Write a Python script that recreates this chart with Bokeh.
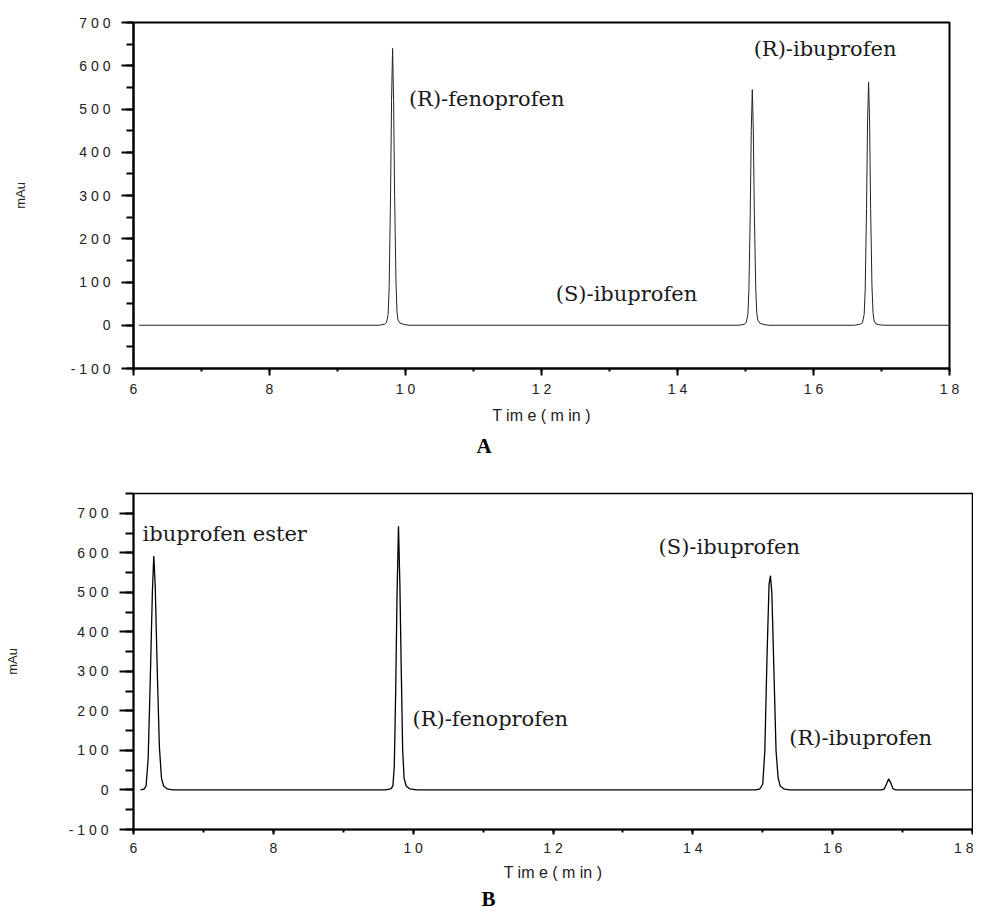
from bokeh.plotting import figure
from bokeh.layouts import column
from bokeh.models import Label, SingleIntervalTicker, Range1d, Title
from bokeh.embed import file_html
from bokeh.resources import INLINE

# ---------------- data ----------------
# Panel A chromatogram: time (min) and absorbance (mAu)
time_a = [6.08, 9.60, 9.69, 9.72, 9.745, 9.76, 9.78, 9.795, 9.81, 9.825, 9.84, 9.86, 9.875, 9.89, 9.92, 9.97, 10.05,
          14.90, 14.98, 15.01, 15.035, 15.05, 15.07, 15.085, 15.10, 15.115, 15.13, 15.15, 15.165, 15.18, 15.21, 15.26, 15.34,
          16.60, 16.68, 16.72, 16.745, 16.76, 16.78, 16.795, 16.81, 16.825, 16.84, 16.86, 16.875, 16.89, 16.92, 16.97, 17.05,
          18.0]
mau_a = [0, 0, 2, 6, 25, 90, 300, 520, 640, 520, 300, 100, 30, 12, 5, 2, 0,
         0, 2, 6, 25, 80, 260, 450, 545, 450, 260, 90, 30, 12, 5, 2, 0,
         0, 2, 6, 25, 80, 270, 470, 562, 470, 270, 90, 30, 10, 3, 1, 0,
         0]

# Panel B chromatogram
time_b = [6.10, 6.15, 6.18, 6.21, 6.24, 6.27, 6.29, 6.31, 6.34, 6.37, 6.40, 6.43, 6.48, 6.56,
          9.60, 9.68, 9.71, 9.73, 9.75, 9.77, 9.79, 9.81, 9.83, 9.85, 9.87, 9.90, 9.95, 10.05,
          14.90, 14.96, 15.00, 15.03, 15.06, 15.09, 15.11, 15.13, 15.16, 15.19, 15.22, 15.25, 15.30, 15.38,
          16.70, 16.74, 16.77, 16.80, 16.83, 16.86, 16.90,
          18.0]
mau_b = [0, 2, 10, 80, 280, 500, 592, 520, 300, 110, 30, 10, 3, 0,
         0, 3, 10, 60, 250, 500, 667, 520, 300, 100, 30, 10, 3, 0,
         0, 3, 15, 100, 330, 520, 542, 500, 300, 100, 30, 10, 3, 0,
         0, 3, 15, 28, 18, 4, 0,
         0]

# Tick values and their printed labels
y_tick_values = [-100, 0, 100, 200, 300, 400, 500, 600, 700]
y_tick_labels = ["- 1 0 0", "0", "1 0 0", "2 0 0", "3 0 0", "4 0 0", "5 0 0", "6 0 0", "7 0 0"]
x_tick_values = [6, 8, 10, 12, 14, 16, 18]
x_tick_labels = ["6", "8", "1 0", "1 2", "1 4", "1 6", "1 8"]

x_axis_title = "T im e ( m in )"
y_axis_title = "mAu"

# Peak annotations: (text, time anchor, mAu anchor)
peak_names_a = ["(R)-fenoprofen", "(S)-ibuprofen", "(R)-ibuprofen"]
peak_x_a = [10.05, 12.21, 15.12]
peak_y_a = [522, 72, 638]

peak_names_b = ["ibuprofen ester", "(R)-fenoprofen", "(S)-ibuprofen", "(R)-ibuprofen"]
peak_x_b = [6.13, 9.99, 13.51, 15.38]
peak_y_b = [648, 180, 615, 132]

panel_letters = ["A", "B"]

# ---------------- styling helpers ----------------
SANS = "Liberation Sans"
SERIF = "DejaVu Serif"


def make_panel(t, v, names, nx, ny, letter, letter_offset, letter_standoff,
               frame_w, frame_h, bl, br, bt, bb, y_end, ytick_out, ylab_standoff,
               xtick_out, xlabel_standoff, outline_w, line_w, line_col):
    p = figure(frame_width=frame_w, frame_height=frame_h,
               min_border_left=bl, min_border_right=br, min_border_top=bt, min_border_bottom=bb,
               x_range=Range1d(6, 18), y_range=Range1d(-100, y_end),
               output_backend="svg", toolbar_location=None)
    p.xgrid.visible = False
    p.ygrid.visible = False
    p.outline_line_color = "black"
    p.outline_line_width = outline_w
    p.outline_line_alpha = 1.0
    p.background_fill_color = "white"
    p.border_fill_color = "white"

    p.line(t, v, line_color=line_col, line_width=line_w)

    # y axis
    ya = p.yaxis[0]
    ya.ticker = SingleIntervalTicker(interval=100, num_minor_ticks=2)
    ya.major_label_overrides = {val: lab for val, lab in zip(y_tick_values, y_tick_labels)}
    ya.axis_line_width = 2
    ya.major_tick_line_width = 2
    ya.minor_tick_line_width = 2
    ya.major_tick_in = 0
    ya.minor_tick_in = 0
    ya.major_tick_out = ytick_out
    ya.minor_tick_out = ytick_out // 2 + 1
    ya.major_label_standoff = 11
    ya.major_label_text_font = SANS
    ya.major_label_text_font_size = "14px"
    ya.major_label_text_color = "#222222"
    ya.axis_label = y_axis_title
    ya.axis_label_text_font = SANS
    ya.axis_label_text_font_size = "13px"
    ya.axis_label_text_font_style = "normal"
    ya.axis_label_text_color = "#222222"
    ya.axis_label_standoff = ylab_standoff

    # x axis
    xa = p.xaxis[0]
    xa.ticker = SingleIntervalTicker(interval=2, num_minor_ticks=2)
    xa.major_label_overrides = {val: lab for val, lab in zip(x_tick_values, x_tick_labels)}
    xa.axis_line_width = 2
    xa.major_tick_line_width = 2
    xa.minor_tick_line_width = 2
    xa.major_tick_in = 0
    xa.minor_tick_in = 0
    xa.major_tick_out = xtick_out
    xa.minor_tick_out = 3
    xa.major_label_standoff = 5
    xa.major_label_text_font = SANS
    xa.major_label_text_font_size = "14px"
    xa.major_label_text_color = "#222222"
    xa.axis_label = x_axis_title
    xa.axis_label_text_font = SANS
    xa.axis_label_text_font_size = "16px"
    xa.axis_label_text_font_style = "normal"
    xa.axis_label_text_color = "#222222"
    xa.axis_label_standoff = xlabel_standoff

    for name, x, y in zip(names, nx, ny):
        p.add_layout(Label(x=x, y=y, text=name, text_font=SERIF, text_font_size="21px",
                           text_color="#1a1a1a", text_baseline="middle", text_align="left"))

    p.add_layout(Title(text=letter, align="left", offset=letter_offset, standoff=letter_standoff,
                       text_font="Liberation Serif", text_font_style="bold", text_font_size="21px",
                       text_color="black"), "below")
    return p


pa = make_panel(time_a, mau_a, peak_names_a, peak_x_a, peak_y_a, panel_letters[0], 343, 10,
                frame_w=816, frame_h=346, bl=133, br=16, bt=22, bb=94, y_end=700,
                ytick_out=12, ylab_standoff=40, xtick_out=7, xlabel_standoff=7,
                outline_w=2, line_w=1, line_col="#222222")

pb = make_panel(time_b, mau_b, peak_names_b, peak_x_b, peak_y_b, panel_letters[1], 348, 2,
                frame_w=839, frame_h=336, bl=128, br=2, bt=31, bb=10, y_end=750,
                ytick_out=14, ylab_standoff=46, xtick_out=5, xlabel_standoff=5,
                outline_w=1.5, line_w=1.3, line_col="black")

layout = column(pa, pb, spacing=0)

open("out.html", "w").write(file_html(layout, INLINE))
